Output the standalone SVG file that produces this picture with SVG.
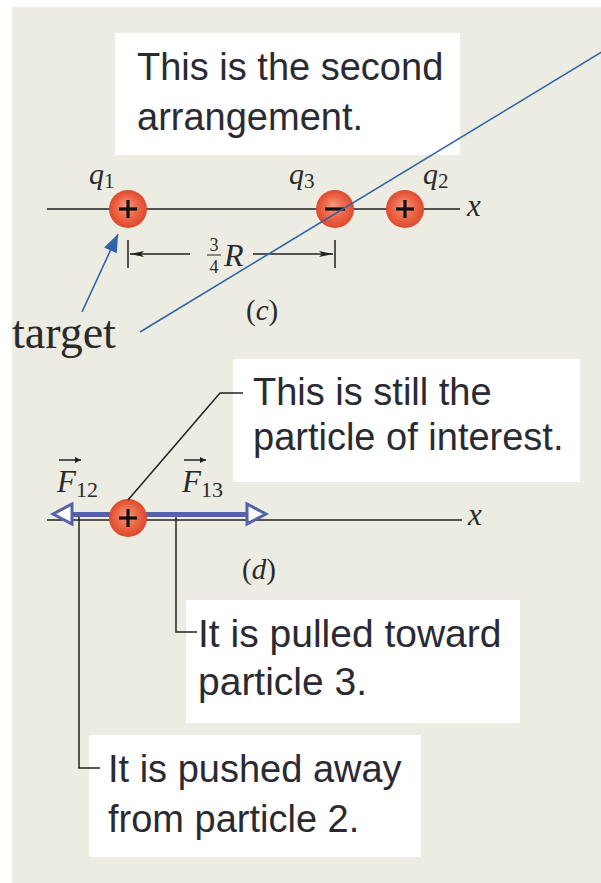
<svg xmlns="http://www.w3.org/2000/svg" width="601" height="883" viewBox="0 0 601 883">
<defs>
<style>
.box{fill:#ffffff}
.lbl{font-family:"Liberation Sans",Arial,sans-serif;fill:#2a2a33}
.ser{font-family:"Liberation Serif","Times New Roman",serif;fill:#2a2a2a}
.it{font-style:italic}
.axis{stroke:#222;stroke-width:1.6;fill:none}
.lead{stroke:#222;stroke-width:1.5;fill:none}
.blue{stroke:#2f63a8;stroke-width:1.6;fill:none}
.sign{stroke:#111;stroke-width:3.2;stroke-linecap:butt}
.bar{fill:#5561a8}
.head{fill:#ffffff;stroke:#5561a8;stroke-width:3;stroke-linejoin:miter}
</style>
<radialGradient id="ball" cx="50%" cy="50%" r="50%" fx="45%" fy="40%">
<stop offset="0%" stop-color="#f59a7a"/>
<stop offset="60%" stop-color="#ec6446"/>
<stop offset="100%" stop-color="#dc4a2e"/>
</radialGradient>
<marker id="bluehead" viewBox="0 0 10 10" refX="10" refY="5" markerWidth="10" markerHeight="10" markerUnits="userSpaceOnUse" orient="auto" overflow="visible">
<path d="M-8,-2 L10,5 L-8,12 Z" fill="#2f63a8"/>
</marker>
<marker id="dimhead" viewBox="0 0 14 6" refX="14" refY="3" markerWidth="14" markerHeight="6" markerUnits="userSpaceOnUse" orient="auto">
<path d="M0,0 L14,3 L0,6 L3,3 Z" fill="#222"/>
</marker>
<marker id="vec" viewBox="0 0 6 6" refX="6" refY="3" markerWidth="6" markerHeight="6" markerUnits="userSpaceOnUse" orient="auto">
<path d="M0,0 L6,3 L0,6 Z" fill="#222"/>
</marker>
</defs>

<rect id="panel" x="12" y="7" width="589" height="876" fill="#ecece2"/>

<g id="box1">
<rect class="box" x="115" y="33" width="345" height="122"/>
<text class="lbl" x="137" y="80" font-size="38">This is the second</text>
<text class="lbl" x="137" y="130" font-size="38">arrangement.</text>
</g>

<g id="axis-c">
<line class="axis" x1="47" y1="209" x2="460" y2="209"/>
<text class="ser it" x="467" y="216" font-size="31">x</text>
</g>

<g id="q1">
<circle cx="128" cy="209" r="19" fill="url(#ball)"/>
<line class="sign" x1="119" y1="209" x2="137" y2="209"/>
<line class="sign" x1="128" y1="200" x2="128" y2="218"/>
<text class="ser it" x="89" y="184" font-size="30">q<tspan font-style="normal" font-size="21" dy="4">1</tspan></text>
</g>
<g id="q3">
<circle cx="335" cy="209" r="19" fill="url(#ball)"/>
<line class="sign" x1="325" y1="209" x2="345" y2="209"/>
<text class="ser it" x="289" y="184" font-size="30">q<tspan font-style="normal" font-size="21" dy="4">3</tspan></text>
</g>
<g id="q2">
<circle cx="405" cy="209" r="19" fill="url(#ball)"/>
<line class="sign" x1="396" y1="209" x2="414" y2="209"/>
<line class="sign" x1="405" y1="200" x2="405" y2="218"/>
<text class="ser it" x="423" y="184" font-size="30">q<tspan font-style="normal" font-size="21" dy="4">2</tspan></text>
</g>

<g id="dimension">
<line class="lead" x1="128" y1="240" x2="128" y2="268"/>
<line class="lead" x1="335" y1="240" x2="335" y2="268"/>
<line class="lead" x1="190" y1="254" x2="130" y2="254" marker-end="url(#dimhead)"/>
<line class="lead" x1="253" y1="254" x2="333" y2="254" marker-end="url(#dimhead)"/>
<text class="ser" x="214" y="251" font-size="18" text-anchor="middle">3</text>
<line stroke="#222" stroke-width="1" x1="207" y1="255" x2="221" y2="255"/>
<text class="ser" x="214" y="273" font-size="18" text-anchor="middle">4</text>
<text class="ser it" x="224" y="266" font-size="32">R</text>
</g>

<text id="label-c" class="ser" x="246" y="320" font-size="29">(<tspan font-style="italic">c</tspan>)</text>

<text id="target" class="ser" x="12" y="348" font-size="46" fill="#000">target</text>

<g id="box2">
<rect class="box" x="233" y="359" width="347" height="123"/>
<text class="lbl" x="253" y="405" font-size="38">This is still the</text>
<text class="lbl" x="253" y="450" font-size="38">particle of interest.</text>
</g>

<g id="axis-d">
<line class="axis" x1="47" y1="520" x2="462" y2="520"/>
<text class="ser it" x="468" y="525" font-size="31">x</text>
</g>

<g id="forces">
<rect class="bar" x="70" y="512" width="45" height="5"/>
<rect class="bar" x="140" y="512" width="109" height="5"/>
<path class="head" d="M53,514 L72,504 L72,524 Z"/>
<path class="head" d="M266,514 L247,504 L247,524 Z"/>
<line class="lead" x1="59" y1="460" x2="81" y2="460" marker-end="url(#vec)"/>
<text class="ser it" x="57" y="492" font-size="31">F<tspan font-style="normal" font-size="22" dy="5">12</tspan></text>
<line class="lead" x1="184" y1="460" x2="206" y2="460" marker-end="url(#vec)"/>
<text class="ser it" x="182" y="492" font-size="31">F<tspan font-style="normal" font-size="22" dy="5">13</tspan></text>
</g>

<g id="particle">
<circle cx="128" cy="518" r="19" fill="url(#ball)"/>
<line class="sign" x1="119" y1="518" x2="137" y2="518"/>
<line class="sign" x1="128" y1="509" x2="128" y2="527"/>
</g>

<text id="label-d" class="ser" x="242" y="579" font-size="29">(<tspan font-style="italic">d</tspan>)</text>

<g id="box3">
<rect class="box" x="186" y="600" width="334" height="123"/>
<text class="lbl" x="198" y="647" font-size="39">It is pulled toward</text>
<text class="lbl" x="198" y="695" font-size="39">particle 3.</text>
</g>

<g id="box4">
<rect class="box" x="89" y="735" width="332" height="122"/>
<text class="lbl" x="108" y="782" font-size="38">It is pushed away</text>
<text class="lbl" x="108" y="832" font-size="38">from particle 2.</text>
</g>

<g id="connectors">
<polyline class="lead" points="128,500 220,393 243,393"/>
<polyline class="lead" points="79,517 79,768 100,768"/>
<polyline class="lead" points="176,517 176,632 197,632"/>
<line class="blue" x1="82" y1="312" x2="118" y2="234" marker-end="url(#bluehead)"/>
<line class="blue" x1="140" y1="332" x2="605" y2="50"/>
</g>
</svg>
